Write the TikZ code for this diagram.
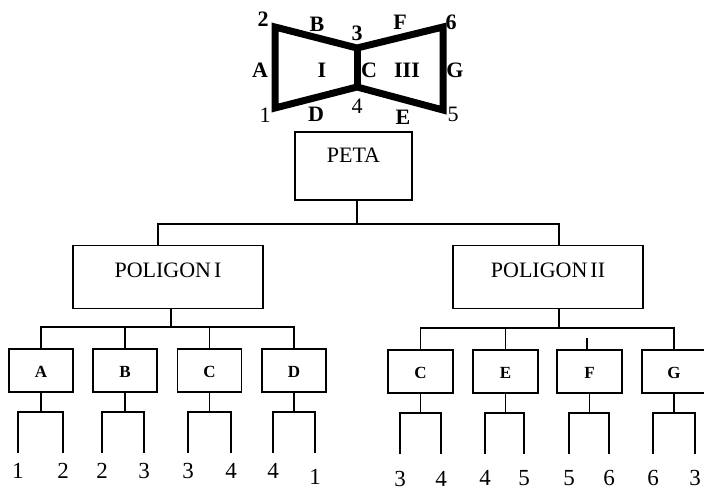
\documentclass[tikz,border=0pt]{standalone}
\usepackage{fontspec}
\setmainfont{Liberation Serif}
\begin{document}
\begin{tikzpicture}[x=1pt,y=-1pt,
  link/.style={line width=1.8pt},
  bigbox/.style={draw, line width=1.8pt, inner sep=0pt, outer sep=0pt, anchor=base,
    minimum width=#1, text height=31.5pt, text depth=31.5pt, font=\fontsize{22}{22}\selectfont},
  smallbox/.style={draw, line width=1.8pt, inner sep=0pt, outer sep=0pt, anchor=base,
    minimum width=#1, text height=28pt, text depth=15pt, font=\fontsize{17}{17}\selectfont\bfseries},
  numnode/.style={anchor=north, inner sep=0pt, text height=#1, font=\fontsize{23}{23}\selectfont},
  bowlbl/.style={inner sep=0pt, font=\fontsize{22}{22}\selectfont\bfseries},
  bownum/.style={inner sep=0pt, font=\fontsize{22}{22}\selectfont},
  bowline/.style={line width=7pt, line join=miter}
]
\useasboundingbox (0,0) rectangle (704,490);
\fill[white] (0,0) rectangle (704,490);

% bow-tie map
\coordinate (v1) at (275,108);
\coordinate (v2) at (275,27);
\coordinate (v3) at (357,48);
\coordinate (v6) at (443,27);
\coordinate (v5) at (443,110);
\coordinate (v4) at (357,87);
\draw[bowline] (v1) -- (v2) -- (v3) -- (v6) -- (v5) -- (v4) -- cycle;
\draw[bowline] (v3) -- (v4);
\node[bowlbl] (l2) at (263,19) {2};
\node[bowlbl] (lB) at (317,24) {B};
\node[bowlbl] (l3) at (357,33) {3};
\node[bowlbl] (lF) at (400,22) {F};
\node[bowlbl] (l6) at (451,22) {6};
\node[bowlbl] (lA) at (260,70) {A};
\node[bowlbl] (lI) at (322,70) {I};
\node[bowlbl] (lC) at (369,70) {C};
\node[bowlbl] (lIII) at (407,70) {III};
\node[bowlbl] (lG) at (455,70) {G};
\node[bownum] (l1) at (265,115) {1};
\node[bowlbl] (lD) at (316,114) {D};
\node[bownum] (l4) at (357,106) {4};
\node[bowlbl] (lE) at (403,117) {E};
\node[bownum] (l5) at (453,114) {5};

% tree boxes
\node[bigbox=117pt, text height=30pt, text depth=38pt] (peta) at (353.5,162) {PETA};
\node[bigbox=190pt] (pol1) at (168,277) {POLIGON\hspace{3pt}I};
\node[bigbox=190pt] (pol2) at (548,277) {POLIGON\hspace{3pt}II};

\node[smallbox=64pt] (a1) at (41,377) {A};
\node[smallbox=64pt] (b1) at (125,377) {B};
\node[smallbox=64pt] (c1) at (209.5,377) {C};
\node[smallbox=64pt] (d1) at (294,377) {D};
\node[smallbox=65pt] (c2) at (420.5,378) {C};
\node[smallbox=65pt] (e2) at (505.5,378) {E};
\node[smallbox=65pt] (f2) at (589.5,378) {F};
\node[smallbox=64pt] (g2) at (674,378) {G};

% level 1
\coordinate (j0) at (357,224);
\draw[link] ([xshift=3.5pt]peta.south) -- (j0);
\draw[link] ([xshift=-10pt]pol1.north) |- (j0) -| ([xshift=11pt]pol2.north);

% level 2 left
\coordinate (j1) at (171,327);
\draw[link] ([xshift=3pt]pol1.south) -- (j1);
\draw[link] (a1.north) |- (j1) -| (d1.north);
\draw[link] (b1.north) -- (b1.north |- j1);
\draw[link] (c1.north) -- (c1.north |- j1);

% level 2 right
\coordinate (j2) at (559,328);
\draw[link] ([xshift=11pt]pol2.south) -- (j2);
\draw[link] (c2.north) |- (j2) -| (g2.north);
\draw[link] (e2.north) -- (e2.north |- j2);
\draw[link] ([xshift=-2.5pt]f2.north) -- ++(0,-12);

% leaves left
\node[numnode=25pt] (a1l) at (18,453) {1};
\node[numnode=25pt] (a1r) at (63,453) {2};
\node[numnode=25pt] (b1l) at (102,453) {2};
\node[numnode=25pt] (b1r) at (144,453) {3};
\node[numnode=25pt] (c1l) at (188,453) {3};
\node[numnode=25pt] (c1r) at (231,453) {4};
\node[numnode=25pt] (d1l) at (273,453) {4};
\node[numnode=31pt] (d1r) at (315,453) {1};
% leaves right
\node[numnode=32pt] (c2l) at (400,454) {3};
\node[numnode=32pt] (c2r) at (441,454) {4};
\node[numnode=31pt] (e2l) at (485,454) {4};
\node[numnode=31pt] (e2r) at (524,454) {5};
\node[numnode=31pt] (f2l) at (569,454) {5};
\node[numnode=31pt] (f2r) at (609,454) {6};
\node[numnode=31pt] (g2l) at (653,454) {6};
\node[numnode=31pt] (g2r) at (695,454) {3};

\foreach \b/\l/\r in {a1/a1l/a1r, b1/b1l/b1r, c1/c1l/c1r, d1/d1l/d1r,
                      c2/c2l/c2r, e2/e2l/e2r, f2/f2l/f2r, g2/g2l/g2r}{
  \draw[link] (\b.south) -- ++(0,20) coordinate (k\b);
  \draw[link] (\l.north) |- (k\b) -| (\r.north);
}
\end{tikzpicture}
\end{document}
